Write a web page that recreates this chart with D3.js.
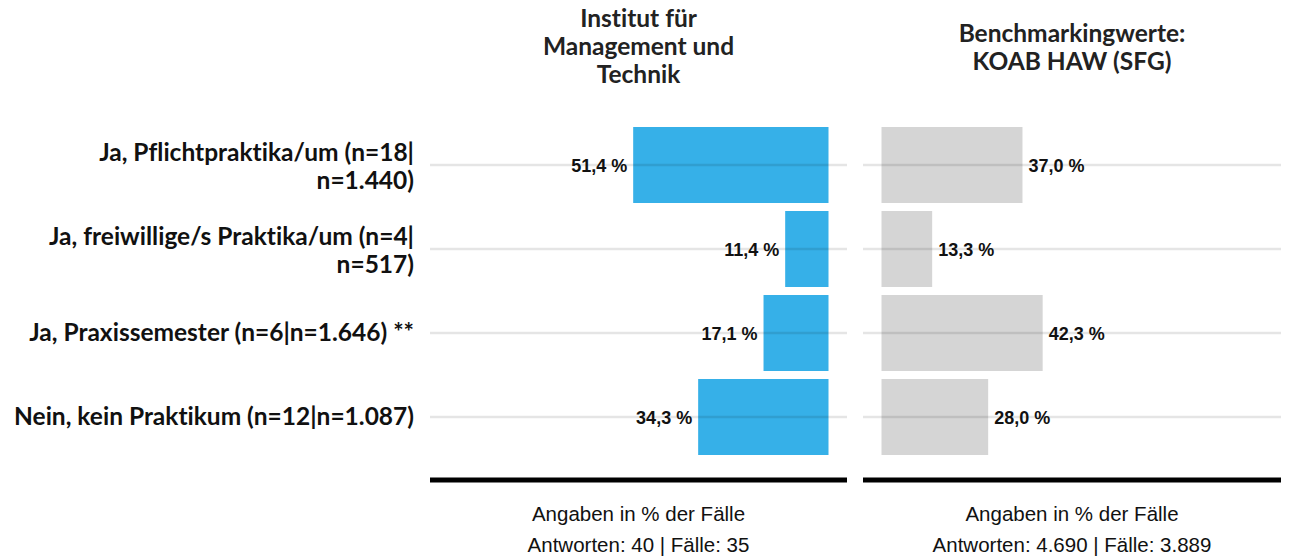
<!DOCTYPE html>
<html>
<head>
<meta charset="utf-8">
<script src="https://cdn.jsdelivr.net/npm/d3@7"></script>
<style>
  html, body { margin: 0; padding: 0; background: #fff; }
  svg { display: block; }
  text { font-variant-ligatures: none; font-feature-settings: "liga" 0; }
</style>
</head>
<body>
<svg id="chart" width="1290" height="558"></svg>
<script>
// ---- data ----
const categories = [
  ["Ja, Pflichtpraktika/um (n=18|", "n=1.440)"],
  ["Ja, freiwillige/s Praktika/um (n=4|", "n=517)"],
  ["Ja, Praxissemester (n=6|n=1.646) **"],
  ["Nein, kein Praktikum (n=12|n=1.087)"]
];
const instituteValues = [51.4, 11.4, 17.1, 34.3];
const benchmarkValues = [37.0, 13.3, 42.3, 28.0];
const panelTitles = [
  ["Institut für", "Management und", "Technik"],
  ["Benchmarkingwerte:", "KOAB HAW (SFG)"]
];
const footerLines = [
  ["Angaben in % der Fälle", "Antworten: 40 | Fälle: 35"],
  ["Angaben in % der Fälle", "Antworten: 4.690 | Fälle: 3.889"]
];

// ---- layout ----
const svg = d3.select("#chart");
const labelFont = "Lato, 'Open Sans', sans-serif";
const numFont = "'Liberation Sans', Arial, sans-serif";
const blue = "#36b0e8";
const grey = "#d5d5d5";

const keys = categories.map((c, i) => "c" + i);
const y = d3.scaleBand().domain(keys).range([123, 459])
  .paddingInner(0.0952).paddingOuter(0.0476);

const panels = [
  { x0: 430, x1: 847, values: instituteValues, color: blue, dir: -1, title: panelTitles[0], footer: footerLines[0], titleTop: 27 },
  { x0: 863, x1: 1281, values: benchmarkValues, color: grey, dir: 1, title: panelTitles[1], footer: footerLines[1], titleTop: 41.5 }
];
const inset = 18.5;

panels.forEach(p => {
  const x = p.dir < 0
    ? d3.scaleLinear().domain([0, 100]).range([p.x1 - inset, p.x0 + inset])
    : d3.scaleLinear().domain([0, 100]).range([p.x0 + inset, p.x1 - inset]);
  const g = svg.append("g");
  const cx = (p.x0 + p.x1) / 2;

  // bars
  g.selectAll("rect.bar").data(p.values).join("rect")
    .attr("class", "bar")
    .attr("x", d => Math.min(x(0), x(d)))
    .attr("width", d => Math.abs(x(d) - x(0)))
    .attr("y", (d, i) => y(keys[i]))
    .attr("height", y.bandwidth())
    .attr("fill", p.color);

  // grid lines (drawn over bars, translucent)
  g.selectAll("line.grid").data(keys).join("line")
    .attr("class", "grid")
    .attr("x1", p.x0).attr("x2", p.x1)
    .attr("y1", k => y(k) + y.bandwidth() / 2)
    .attr("y2", k => y(k) + y.bandwidth() / 2)
    .attr("stroke", "#000").attr("stroke-opacity", 0.1).attr("stroke-width", 2.5);

  // value labels
  g.selectAll("text.val").data(p.values).join("text")
    .attr("class", "val")
    .attr("x", d => x(d) + p.dir * 6)
    .attr("y", (d, i) => y(keys[i]) + y.bandwidth() / 2 + 7)
    .attr("text-anchor", p.dir < 0 ? "end" : "start")
    .attr("font-family", numFont).attr("font-weight", "bold").attr("font-size", 18)
    .attr("fill", "#111")
    .text(d => d3.format(".1f")(d).replace(".", ",") + " %");

  // baseline axis
  g.append("line")
    .attr("x1", p.x0).attr("x2", p.x1).attr("y1", 480).attr("y2", 480)
    .attr("stroke", "#000").attr("stroke-width", 5);

  // title
  const t = g.append("text")
    .attr("text-anchor", "middle")
    .attr("font-family", labelFont).attr("font-weight", "bold").attr("font-size", 24.5)
    .attr("fill", "#222");
  p.title.forEach((line, i) => {
    t.append("tspan").attr("x", cx).attr("y", p.titleTop + i * 28.2).text(line);
  });

  // footer
  p.footer.forEach((line, i) => {
    g.append("text")
      .attr("x", cx).attr("y", 521 + i * 31)
      .attr("text-anchor", "middle")
      .attr("font-family", numFont).attr("font-size", 20.5)
      .attr("fill", "#111")
      .text(line);
  });
});

// category labels
const lineH = 28;
svg.append("g").selectAll("text.cat").data(categories).join("text")
  .attr("class", "cat")
  .attr("text-anchor", "end")
  .attr("font-family", labelFont).attr("font-weight", "bold").attr("font-size", 24.5)
  .attr("fill", "#111")
  .each(function(lines, i) {
    const cy = y(keys[i]) + y.bandwidth() / 2;
    const off = lines.length > 1 ? 9.5 : 8;
    const first = cy + off - (lines.length - 1) * lineH / 2;
    d3.select(this).selectAll("tspan").data(lines).join("tspan")
      .attr("x", 414)
      .attr("y", (l, j) => first + j * lineH)
      .text(l => l);
  });
</script>
</body>
</html>
